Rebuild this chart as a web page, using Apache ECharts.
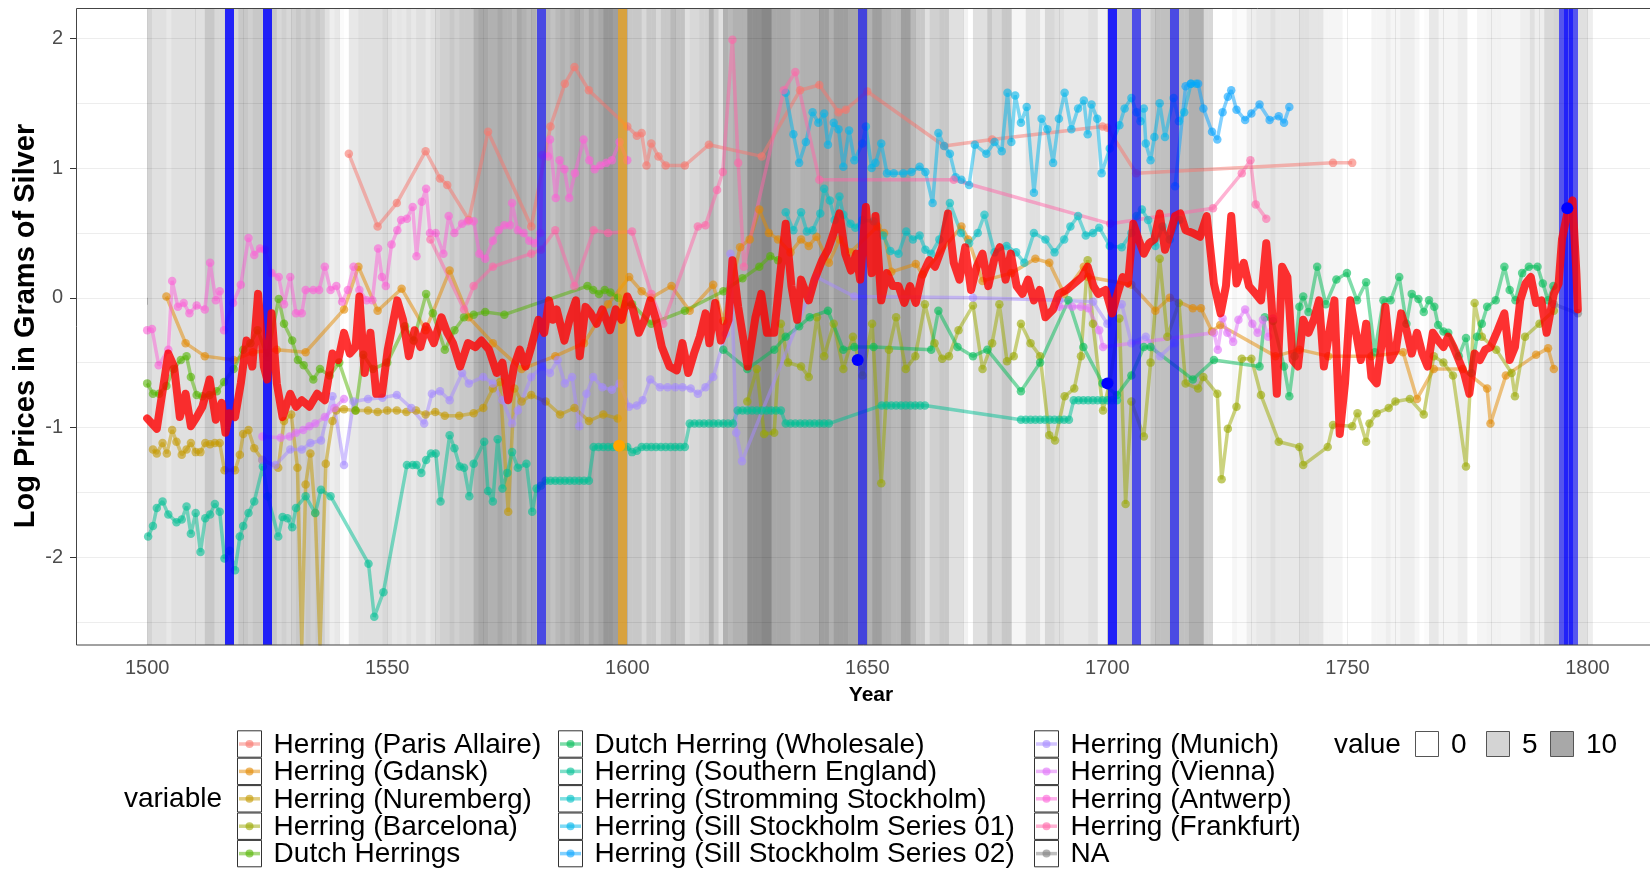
<!DOCTYPE html>
<html><head><meta charset="utf-8">
<script src="https://cdn.jsdelivr.net/npm/echarts@6/dist/echarts.min.js"></script>
<style>html,body{margin:0;padding:0;background:#fff}#c{width:1650px;height:869px}</style>
</head><body><div id="c"></div>
<script>
// ---------------- DATA ----------------
const categories = [
  "Herring (Paris Allaire)", "Herring (Gdansk)", "Herring (Nuremberg)", "Herring (Barcelona)", "Dutch Herrings",
  "Dutch Herring (Wholesale)", "Herring (Southern England)", "Herring (Stromming Stockholm)", "Herring (Sill Stockholm Series 01)", "Herring (Sill Stockholm Series 02)",
  "Herring (Munich)", "Herring (Vienna)", "Herring (Antwerp)", "Herring (Frankfurt)", "NA"
];
const palette = ["#F8766D","#E38900","#C49A00","#99A800","#53B400","#00BC56","#00C094","#00BFC4","#00B6EB","#06A4FF","#A58AFF","#DF70F8","#FB61D7","#FF66A8","#7F7F7F"];

const xTicks = [1500,1510,1520,1530,1540,1550,1560,1570,1580,1590,1600,1610,1620,1630,1640,1650,1660,1670,1680,1690,1700,1710,1720,1730,1740,1750,1760,1770,1780,1790,1800];
const xLabels = [1500,1550,1600,1650,1700,1750,1800];
const yTicks = [-2,-1,0,1,2];
const yGrid = [-2.5,-2,-1.5,-1,-0.5,0,0.5,1,1.5,2];
const valueLegend = [0,5,10];

// per-year shading "value" from 1500 to 1800
const shadeStart = 1500;
const shadeValues = [
  5,3.6,3.6,3.6,2.6,3.6,3.6,3.6,3.6,3.6,
  3.6,3.6,6.3,6.3,4.5,4.5,5,5,4.5,6.3,
  6.3,5.4,6.3,6.3,6,6,6.3,4.5,5.4,4.5,
  5.4,6.3,5.4,6.3,5.4,6.3,5.4,3.6,2,2.6,
  0.5,0,2.6,2.6,3.6,3.6,3.6,3.6,3.6,4.5,
  3.6,2.6,3,2.6,3.6,2.6,3.6,3.6,2.6,3.6,
  4.5,5.4,5.4,6.3,5.4,6.3,6.3,6.3,9,10,
  10,9,9,10,9,9,8,10,9,8,
  9,8,8,8,7,8,9,8,9,10,
  9,8,10,9,10,12,12,11,11,11,
  6.3,6.3,6.3,4.5,6.3,6.3,4.5,6.3,6.3,8,
  7,7,3.6,4.5,4.5,5.4,5.4,9,6,3.6,
  9,8,9,9,9,12.8,12.8,12.8,13.7,13.7,
  10,10,10,10,8,8,9,9,9,9,
  11,11,9,11,11,11,10,10,10,10,
  9,11,11,9,9,8,8,11,11,8,
  6.3,6.3,3.6,5.4,5.4,6.3,6.3,3.6,3.6,3.6,
  1.5,0,3.6,3.6,3.6,6.3,4.5,4.5,6.3,6.3,
  1,1,1,3.6,3.6,3.6,1.5,4.5,4.5,3.6,
  3.6,2.6,2.6,2.6,2.6,2.6,3.6,3.6,1.5,1.5,
  6,6,6.3,6.3,6.3,7,7,4.5,4.5,6.3,
  7.2,7.2,7.2,8,8,7.2,7.2,9.1,9.1,9.1,
  4.5,4.5,0,0,0,0,1,0.5,0.5,2,
  2,2.6,2.6,2.6,3.6,2.6,2.6,2.6,2.6,2.6,
  3.6,3.6,3,3,3,1.1,1.1,1.1,1.1,0,
  0,0,0,0,0,1.1,1.1,1.1,2,1.1,
  1.1,2,2,2,1,0,0.5,2.6,2.6,1.1,
  1.1,1.1,1.1,2,2,0,0,1.1,1.1,1.5,
  1.5,1.5,1.1,1.1,1.1,1.1,2,2,3.6,2,
  2,4.5,4.5,5,5,5,5,4.5,3.6,3.6,
  2
];

const blueEvents = [1517,1517,1525,1525,1582,1649,1701,1701,1706,1714,1795,1796,1797];
const orangeEvents = [1599];
const blueEventPoints = [[1648,-0.48],[1700,-0.66],[1795.8,0.69]];
const orangeEventPoints = [[1598.3,-1.14]];

const parisAllaire = [[1542,1.11],[1548,0.55],[1552,0.73],[1558,1.13],[1561,0.92],[1562.5,0.87],[1567,0.60],[1571,1.28],[1580,0.55],[1584,1.32],[1587,1.65],[1589,1.78],[1592,1.60],[1600,1.32],[1602,1.25],[1603,1.27],[1604,1.02],[1605,1.19],[1606.5,1.09],[1608,1.02],[1612,1.02],[1617,1.18],[1628,1.09],[1636,1.60],[1640,1.64],[1644,1.43],[1645.5,1.45],[1650,1.59],[1666,1.17],[1676,1.22],[1699,1.32],[1700,1.31],[1706,0.96],[1747,1.04],[1751,1.04]];

const gdansk = [[1504,0.01],[1508,-0.35],[1512,-0.45],[1518,-0.48],[1522,-0.42],[1527,-0.40],[1533,-0.42],[1541,-0.09],[1544,0.24],[1548,-0.1],[1553,0.07],[1558,-0.25],[1563,0.21],[1567,-0.15],[1572,-0.35],[1578,-0.55],[1585,-0.45],[1591,-0.35],[1596,-0.05],[1600.4,0.16],[1603,0.05],[1605,0.0],[1609.2,0.09],[1613,-0.1],[1617.9,0.10],[1620,-0.18],[1623.5,0.39],[1625.5,0.45],[1627.5,0.68],[1629.5,0.5],[1631.4,0.45],[1634,0.35],[1636.2,0.45],[1637.8,0.40],[1639.4,0.47],[1642,0.27],[1644.2,0.45],[1646.5,0.35],[1652.1,0.55],[1653.5,0.5],[1655,0.2],[1660.1,0.26],[1661.5,0.18],[1669.6,0.55],[1671,0.45],[1674,0.13],[1680,0.19],[1685,0.3],[1687.9,0.27],[1691,0.03],[1695.1,0.24],[1696,0.16],[1705,0.1],[1710,-0.1],[1713,0.0],[1717.8,-0.08],[1719.5,-0.08],[1721.8,-0.26],[1723.5,-0.21],[1735,-0.45],[1740,-0.40],[1746,-0.45],[1755,-0.45],[1761.6,-0.42],[1764.5,-0.78],[1768,-0.55],[1774,-0.55],[1779.1,-0.70],[1779.8,-0.97],[1783,-0.6],[1789.3,-0.44],[1791.8,-0.39],[1793,-0.55]];

const nuremberg = [[1501.2,-1.17],[1502,-1.20],[1503.2,-1.12],[1504.1,-1.20],[1505.2,-1.02],[1506.1,-1.11],[1507.2,-1.21],[1508.2,-1.17],[1509.1,-1.12],[1510.1,-1.19],[1511.1,-1.19],[1512.1,-1.12],[1513.1,-1.13],[1514.1,-1.12],[1515.1,-1.12],[1516.1,-1.33],[1518.3,-1.33],[1519.3,-1.21],[1520,-1.05],[1521.1,-1.02],[1522.3,-1.16],[1524,-1.25],[1527.3,-1.31],[1528.5,-0.95],[1530,-0.90],[1531.3,-1.31],[1532.2,-2.68],[1533,-1.44],[1534,-1.20],[1535,-1.66],[1536,-2.68],[1537.2,-1.28],[1538.6,-0.95],[1539.4,-0.87],[1541,-0.86],[1543.4,-0.87],[1546,-0.87],[1548,-0.88],[1550,-0.87],[1552,-0.87],[1554,-0.88],[1556,-0.87],[1558,-0.90],[1560,-0.88],[1562,-0.91],[1565,-0.91],[1568,-0.89],[1570,-0.85],[1572,-0.70],[1573.5,-0.65],[1575.2,-1.65],[1576.5,-0.70],[1578,-0.80],[1580,-0.75],[1583,-0.80],[1586,-0.90],[1589,-0.85],[1592,-0.95],[1595,-0.90],[1598,-0.93]];

const barcelona = [[1625,-0.80],[1627,-0.55],[1628.5,-1.05],[1630.6,-1.04],[1632,-0.20],[1633.5,-0.50],[1636.2,-0.53],[1637.8,-0.61],[1639.5,-0.15],[1641,-0.45],[1643,-0.20],[1645,-0.55],[1647,-0.30],[1649,-0.60],[1651,-0.20],[1652.9,-1.43],[1654.5,-0.40],[1656,-0.15],[1658,-0.55],[1660,-0.45],[1662,-0.05],[1664,-0.35],[1665.6,-0.47],[1667,-0.45],[1669,-0.25],[1672,-0.06],[1674,-0.55],[1676,-0.35],[1677.5,-0.05],[1679.1,-0.49],[1680.5,-0.45],[1682,-0.20],[1684,-0.35],[1686,-0.45],[1687.9,-1.06],[1689.1,-1.10],[1691.1,-0.76],[1693.1,-0.70],[1694.5,-0.45],[1695.9,0.29],[1697,-0.20],[1699.1,-0.87],[1700.5,-0.65],[1702.5,-0.16],[1703.8,-1.59],[1705,-0.80],[1707.6,-1.07],[1709,-0.50],[1710.9,0.30],[1712.5,-0.30],[1714.9,-0.04],[1716.3,-0.66],[1718.9,-0.70],[1720,-0.61],[1722.9,-0.74],[1723.8,-1.40],[1725.1,-1.01],[1726.9,-0.84],[1728,-0.47],[1730,-0.47],[1732,-0.75],[1735.7,-1.11],[1740,-1.15],[1740.8,-1.29],[1745.9,-1.15],[1747,-0.98],[1751,-0.99],[1752.1,-0.89],[1753.9,-1.11],[1754.6,-0.97],[1756.1,-0.89],[1758.6,-0.85],[1760,-0.80],[1763,-0.78],[1765.9,-0.90],[1768,-0.45],[1770,-0.50],[1772,-0.60],[1774.7,-1.30],[1776.5,-0.04],[1778,-0.30],[1781,-0.40],[1784.2,-0.58],[1784.9,-0.76],[1787,-0.30],[1790,-0.20],[1793,-0.10]];

const dutchHerrings = [[1500,-0.66],[1501.2,-0.74],[1502.5,-0.74],[1504,-0.68],[1505.5,-0.55],[1507,-0.48],[1508.2,-0.45],[1509.1,-0.61],[1510.3,-0.75],[1511.5,-0.76],[1513,-0.75],[1514.5,-0.72],[1516,-0.65],[1518,-0.55],[1520,-0.40],[1521.5,-0.35],[1523,-0.25],[1525,-0.45],[1527.4,-0.01],[1528.5,-0.20],[1530.2,-0.33],[1531.4,-0.48],[1532.6,-0.52],[1534.6,-0.63],[1536,-0.55],[1538,-0.60],[1540,-0.50],[1543.4,-0.87],[1545,-0.44],[1547,-0.55],[1550,-0.50],[1553.7,-0.22],[1555.5,-0.33],[1558.1,0.03],[1559.5,-0.12],[1562,-0.40],[1564,-0.25],[1566,-0.15],[1568,-0.13],[1570.4,-0.11],[1574.4,-0.13],[1591.7,0.09],[1592.9,0.06],[1594.1,0.03],[1595.3,0.06],[1596.5,0.04],[1598.1,0.00],[1599.2,-0.05],[1601,-0.05],[1605,-0.20],[1612,-0.10],[1620,0.05],[1624,0.15],[1627.5,0.24],[1629.8,0.32],[1631.4,0.29]];

const dutchWholesale = [[1620,-0.40],[1625,-0.55],[1630.6,-0.40],[1633,-0.30],[1635.8,-0.22],[1638,-0.15],[1641.8,-0.10],[1645,-0.40],[1647.3,-0.38],[1651.3,-0.38],[1663.3,-0.40],[1664.8,-0.10],[1668.8,-0.38],[1672,-0.45],[1675,-0.40],[1682,-0.72],[1686,-0.50],[1691.9,-0.02],[1695,-0.38],[1699,-0.66],[1702,-0.75],[1705,-0.60],[1707.6,-0.38],[1709,-0.38],[1717.8,-0.63],[1722.2,-0.48],[1731.7,-0.53],[1732.8,-0.15],[1734.5,-0.18],[1736.8,-0.53],[1737.9,-0.76],[1739,-0.45],[1740,-0.07],[1740.8,0.01],[1741.9,-0.11],[1743.7,0.24],[1745.5,-0.05],[1747.7,0.14],[1749.9,0.19],[1752,-0.02],[1753.9,0.12],[1755.7,-0.42],[1757.5,-0.02],[1759,-0.02],[1760.8,0.16],[1762.3,-0.20],[1763.4,0.03],[1764.8,-0.01],[1765.9,-0.11],[1767,-0.02],[1768.1,-0.07],[1768.9,-0.21],[1770,-0.26],[1771,-0.27],[1773.2,-0.45],[1774.7,-0.31],[1775.8,-0.58],[1777,-0.30],[1778,-0.20],[1779.1,-0.07],[1780.9,-0.02],[1782.7,0.24],[1783.8,0.06],[1785,-0.02],[1786.4,0.19],[1787.8,0.24],[1789.6,0.24],[1790.7,0.11],[1791.8,-0.02],[1792.9,0.09]];

const southernEngland = [[1500.2,-1.84],[1501.2,-1.76],[1502,-1.62],[1503.2,-1.57],[1504.4,-1.67],[1506.1,-1.73],[1507.2,-1.71],[1508.2,-1.61],[1509.1,-1.82],[1510.1,-1.66],[1511.1,-1.96],[1512.1,-1.70],[1513.1,-1.67],[1514.1,-1.59],[1515.1,-1.65],[1516.1,-2.01],[1517.2,-1.95],[1518.3,-2.10],[1519.3,-1.84],[1520,-1.76],[1521.1,-1.66],[1522.3,-1.57],[1524.1,-1.30],[1525.1,-1.53],[1527.3,-1.84],[1528.2,-1.69],[1529.2,-1.70],[1530.2,-1.77],[1531,-1.62],[1533,-1.53],[1535,-1.66],[1536.2,-1.48],[1538.2,-1.53],[1546.1,-2.05],[1547.3,-2.46],[1549.2,-2.27],[1554.1,-1.29],[1555.3,-1.29],[1556.1,-1.29],[1557.1,-1.35],[1558.1,-1.25],[1559.1,-1.20],[1560.1,-1.20],[1561.1,-1.57],[1563,-1.06],[1564,-1.16],[1565.1,-1.30],[1566,-1.31],[1567.1,-1.53],[1568,-1.28],[1570.2,-1.11],[1571,-1.49],[1572,-1.57],[1573,-1.09],[1574,-1.47],[1575,-1.35],[1576,-1.19],[1577.2,-1.31],[1579,-1.28],[1580.2,-1.65],[1581.1,-1.47],[1582,-1.45],[1583,-1.41],
 [1584,-1.41],[1585,-1.41],[1586,-1.41],[1587,-1.41],[1588,-1.41],[1589,-1.41],[1590,-1.41],[1591,-1.41],[1592,-1.41],
 [1593,-1.15],[1594,-1.15],[1595,-1.15],[1596,-1.15],[1597,-1.15],[1598,-1.15],[1599,-1.15],[1600,-1.15],[1601,-1.19],[1602,-1.18],[1603,-1.15],[1604,-1.15],[1605,-1.15],[1606,-1.15],[1607,-1.15],[1608,-1.15],[1609,-1.15],[1610,-1.15],[1611,-1.15],[1612,-1.15],
 [1613,-0.97],[1614,-0.97],[1615,-0.97],[1616,-0.97],[1617,-0.97],[1618,-0.97],[1619,-0.97],[1620,-0.97],[1621,-0.97],[1622,-0.97],
 [1623,-0.87],[1624,-0.87],[1625,-0.87],[1626,-0.87],[1627,-0.87],[1628,-0.87],[1629,-0.87],[1630,-0.87],[1631,-0.87],[1632,-0.87],
 [1633,-0.97],[1634,-0.97],[1635,-0.97],[1636,-0.97],[1637,-0.97],[1638,-0.97],[1639,-0.97],[1640,-0.97],[1641,-0.97],[1642,-0.97],
 [1653,-0.83],[1654,-0.83],[1655,-0.83],[1656,-0.83],[1657,-0.83],[1658,-0.83],[1659,-0.83],[1660,-0.83],[1661,-0.83],[1662,-0.83],
 [1682,-0.94],[1683,-0.94],[1684,-0.94],[1685,-0.94],[1686,-0.94],[1687,-0.94],[1688,-0.94],[1689,-0.94],[1690,-0.94],[1691,-0.94],[1692,-0.94],
 [1693,-0.79],[1694,-0.79],[1695,-0.79],[1696,-0.79],[1697,-0.79],[1698,-0.79],[1699,-0.79],[1700,-0.79],[1701,-0.79],[1702,-0.79]];

const stromming = [[1633,0.66],[1634.6,0.52],[1636.2,0.66],[1637.4,0.51],[1638.6,0.52],[1640.2,0.65],[1641,0.84],[1642.2,0.75],[1643.2,0.60],[1644.2,0.78],[1645,0.64],[1646.5,0.57],[1647.5,0.54],[1649,0.60],[1651.3,0.59],[1653.3,0.48],[1654.8,0.36],[1656.5,0.34],[1658.1,0.51],[1659.5,0.45],[1660.9,0.48],[1662.1,0.37],[1663.3,0.34],[1665,0.45],[1667.2,0.73],[1669.5,0.50],[1671.2,0.42],[1673,0.50],[1674.4,0.64],[1676.5,0.35],[1679,0.40],[1681,0.35],[1682.7,0.27],[1684.7,0.50],[1687.1,0.45],[1689,0.35],[1691,0.45],[1692.3,0.55],[1693.9,0.63],[1695.5,0.48],[1697,0.50],[1698.3,0.54],[1700.5,0.40],[1703,0.39],[1705,0.50],[1706.1,0.63],[1707.2,0.68],[1708.5,0.60],[1710,0.40],[1711.5,0.55],[1713,0.45],[1715,0.60]];

const sill01 = [[1633,1.58],[1634.6,1.26],[1635.8,1.04],[1637.2,1.20],[1638.6,1.43],[1639.8,1.35],[1641,1.42],[1641.8,1.18],[1643,1.35],[1644,1.30],[1645,1.01],[1646.2,1.29],[1647.3,1.06],[1649,1.19],[1649.7,1.32],[1650.9,1.00],[1651.7,1.04],[1652.9,1.19],[1654.1,0.96],[1655.5,0.96],[1657.5,0.96],[1659.2,0.97],[1660.9,1.01],[1662.1,0.97],[1663.6,0.73],[1664.8,1.27],[1666,1.17],[1667.2,1.11],[1668.4,0.93],[1669.6,0.91],[1671.2,0.87],[1672.4,1.18],[1674.8,1.11],[1676.5,1.20],[1678,1.13],[1679.2,1.58],[1680,1.20],[1680.8,1.56],[1682,1.35],[1683.2,1.47],[1684.7,0.81],[1686.3,1.38],[1687.5,1.30],[1688.7,1.04],[1689.9,1.38],[1691.1,1.58],[1692.5,1.30],[1693.9,1.46],[1695.1,1.52],[1695.9,1.26],[1696.7,1.49],[1697.9,1.38],[1698.8,0.96],[1700.5,1.15],[1702.5,1.33],[1703.6,1.46],[1705,1.54],[1706.1,1.43],[1706.9,1.36],[1707.6,1.46],[1708,1.19],[1709,1.06],[1709.8,1.24],[1710.9,1.50],[1712,1.24],[1713.8,1.54],[1714.9,1.36],[1716,1.43],[1717.4,1.65],[1718.5,1.65]];

const sill02 = [[1714.1,0.86],[1716.3,1.63],[1717.4,1.65],[1718.9,1.65],[1720,1.46],[1721.8,1.28],[1722.9,1.22],[1724,1.43],[1725.1,1.55],[1725.8,1.60],[1726.9,1.45],[1728.7,1.37],[1730,1.42],[1731.7,1.49],[1733.8,1.37],[1735.7,1.40],[1736.8,1.35],[1737.9,1.47]];

const munich = [[1524,-1.25],[1526.7,-1.29],[1529.8,-1.17],[1532.2,-1.17],[1534,-1.12],[1536.2,-1.10],[1538.6,-0.76],[1541,-1.29],[1543,-0.80],[1546,-0.78],[1549,-0.77],[1552,-0.75],[1555,-0.85],[1557.7,-0.97],[1559.3,-0.74],[1561,-0.72],[1563,-0.79],[1565.6,-0.58],[1567,-0.66],[1570,-0.61],[1572,-0.66],[1574,-0.79],[1576,-0.97],[1577.2,-0.87],[1580,-0.61],[1582.3,-0.53],[1583.9,-0.58],[1585.5,-0.48],[1587,-0.66],[1588.5,-0.61],[1590,-0.99],[1591.5,-0.74],[1592.9,-0.61],[1594.8,-0.69],[1596.8,-0.71],[1598.4,-0.66],[1600.4,-0.84],[1602,-0.83],[1603.2,-0.79],[1604.8,-0.63],[1606.8,-0.69],[1608.4,-0.69],[1610,-0.69],[1611.5,-0.69],[1613.2,-0.70],[1614.7,-0.74],[1616.3,-0.69],[1617.9,-0.61],[1620.5,-0.28],[1621.5,0.34],[1622.7,-1.04],[1623.9,-1.26],[1639.4,0.16],[1647.3,0.01],[1672,0.00],[1690,-0.02],[1697,-0.03],[1700,-0.20],[1703,-0.05],[1705,-0.35],[1708,-0.30],[1711,-0.45],[1714,-0.35]];

const vienna = [[1524,-1.07],[1527.8,-1.08],[1529.7,-1.07],[1531,-1.04],[1532.5,-1.02],[1533.8,-0.99],[1535,-0.97],[1537,-0.92],[1539,-0.85],[1541,-0.78],[1600,null],[1690,-0.07],[1692.7,-0.07],[1694.5,-0.07],[1696,-0.08],[1698.3,-0.25],[1699.1,-0.38],[1722.2,-0.27],[1723,-0.40],[1724,-0.16],[1725,-0.27],[1726.2,-0.34],[1727.3,-0.17],[1728.7,-0.09],[1730.2,-0.20],[1731.3,-0.27],[1732.4,-0.17],[1733.5,-0.30],[1734.5,-0.16]];

const antwerp = [[1500,-0.25],[1501,-0.24],[1502.4,-0.52],[1504.4,-0.40],[1505.2,0.13],[1506.4,-0.07],[1507.6,-0.04],[1508.8,-0.12],[1510.3,-0.06],[1512,-0.09],[1513.1,0.27],[1514.3,-0.02],[1515.1,0.05],[1516,-0.25],[1517.9,-0.04],[1519.5,0.10],[1521.1,0.46],[1522.3,0.33],[1523.5,0.38],[1524.5,0.37],[1525.9,0.19],[1527.4,0.16],[1528.5,-0.05],[1529.8,0.16],[1531,-0.12],[1532.2,-0.12],[1533,0.06],[1534.6,0.06],[1535.8,0.06],[1537,0.24],[1538.2,0.06],[1539.4,0.09],[1540.6,-0.03],[1541.8,0.06],[1543,0.24],[1544.2,0.06],[1545.7,-0.02],[1546.9,-0.02],[1548.1,0.38],[1548.9,0.16],[1549.7,0.09],[1550.9,0.41],[1552.1,0.52],[1552.9,0.60],[1554.1,0.61],[1555.3,0.70],[1556.1,0.32],[1557.2,0.74],[1558.1,0.84],[1558.9,0.50],[1560.1,0.50],[1561.7,0.34],[1562.8,0.63],[1564,0.50],[1565.6,0.57],[1566.8,0.59],[1568,0.59],[1569.2,0.34],[1570.4,0.30],[1572,0.44],[1573.2,0.52],[1574.4,0.56],[1575.6,0.56],[1576,0.73],[1577.2,0.52],[1578.4,0.50],[1579.6,0.44],[1580.7,0.42],[1581.9,0.50],[1582.3,1.10],[1583.5,1.09],[1583.9,1.22],[1585.1,0.77],[1585.9,1.06],[1586.9,0.99],[1587.9,0.77],[1589.1,0.96],[1590.9,1.22],[1592.1,1.06],[1593.2,0.99],[1594.4,1.02],[1595.6,1.04],[1596.8,1.06],[1598.4,1.20],[1600,1.06]];

const frankfurt = [[1559,0.45],[1566,-0.09],[1568,0.09],[1572,0.24],[1580,0.34],[1582,0.37],[1585,0.52],[1589,0.09],[1593,0.52],[1596,0.50],[1601,0.51],[1605,0.03],[1607.5,-0.20],[1614.7,0.55],[1616.3,0.56],[1618.7,0.83],[1619.9,0.97],[1621.9,1.99],[1623.1,1.04],[1624.3,0.24],[1632.6,1.60],[1635,1.74],[1640,0.91],[1668,0.91],[1700.6,0.57],[1722,0.69],[1728,0.96],[1729.8,1.06],[1730.9,0.72],[1733.1,0.61]];

const naSeries = [[1793,-0.05],[1798,-0.12]];

const aggregate = [[1500,-0.93],[1502,-1.01],[1504.4,-0.43],[1505.6,-0.53],[1506.8,-0.92],[1508,-0.74],[1509.1,-0.99],[1510.3,-0.92],[1511.5,-0.84],[1513,-0.63],[1514.3,-0.94],[1515.5,-0.81],[1516.3,-1.04],[1517.1,-0.89],[1518.3,-0.92],[1519.5,-0.66],[1520.7,-0.33],[1521.9,-0.53],[1523.1,0.03],[1524.3,-0.53],[1525,-0.63],[1525.9,-0.12],[1527,-0.66],[1528.2,-0.92],[1529.8,-0.74],[1531,-0.84],[1532.2,-0.79],[1533.8,-0.84],[1535.4,-0.74],[1537,-0.79],[1538.6,-0.43],[1539.8,-0.48],[1541,-0.27],[1542.2,-0.43],[1543.4,-0.38],[1544.2,0.01],[1545.3,-0.58],[1546.5,-0.27],[1547.7,-0.74],[1548.9,-0.74],[1550.1,-0.40],[1552.1,-0.02],[1553.3,-0.17],[1554.5,-0.45],[1555.7,-0.25],[1556.9,-0.38],[1558.1,-0.22],[1559.7,-0.35],[1561.3,-0.15],[1562.5,-0.27],[1563.7,-0.35],[1565.2,-0.53],[1566.8,-0.35],[1568.4,-0.38],[1569.6,-0.33],[1571.2,-0.40],[1572.8,-0.58],[1574,-0.50],[1575.2,-0.79],[1576.4,-0.53],[1577.6,-0.40],[1578.8,-0.53],[1580,-0.38],[1581.5,-0.17],[1582.7,-0.27],[1583.7,-0.02],
 [1584.5,-0.17],[1585.3,-0.09],[1586.9,-0.33],[1588.1,-0.15],[1589.3,-0.02],[1590.1,-0.45],[1591.3,-0.07],[1592.4,-0.12],[1593.6,-0.20],[1594.8,-0.09],[1596.4,-0.25],[1597.6,-0.09],[1598.8,-0.17],[1600,0.01],[1601.2,-0.09],[1602.4,-0.27],[1603.6,-0.17],[1604.8,-0.02],[1606,-0.17],[1607.2,-0.38],[1608.8,-0.53],[1610.3,-0.56],[1611.5,-0.35],[1612.7,-0.58],[1613.9,-0.43],[1615.1,-0.30],[1616.3,-0.12],[1617.1,-0.35],[1618.3,-0.04],[1619.5,-0.33],[1621.1,-0.17],[1621.9,0.29],[1623.1,-0.07],[1625.1,-0.53],[1626.7,-0.15],[1627.9,0.03],[1629.1,-0.27],[1630.6,-0.27],[1631.8,0.16],[1633,0.57],[1634.2,0.09],[1635.4,-0.17],[1636.2,0.14],[1637.8,-0.02],[1639,0.14],[1640.6,0.29],[1641.8,0.37],[1643,0.50],[1644.2,0.65],[1645.4,0.34],[1646.6,0.21],[1647.7,0.34],[1648.5,0.14],[1649.7,0.70],[1650.9,0.19],[1651.7,0.63],[1652.9,-0.02],[1654.1,0.19],[1655.3,0.09],[1656.5,0.09],[1657.7,-0.04],[1658.9,0.09],[1660.1,-0.04],[1661.3,0.16],[1662.9,0.29],[1664.1,0.24],[1665.6,0.39],[1666.8,0.65],[1668,0.27],[1669.2,0.14],[1670.4,0.39],[1671.6,0.06],[1672.8,0.24],[1674,0.34],[1675.2,0.09],[1676.4,0.29],[1677.6,0.39],[1678.8,0.14],[1679.9,0.34],[1681.1,0.09],[1682.3,0.03],[1683.5,0.14],[1684.7,-0.02],[1685.9,0.06],[1687.1,-0.15],[1688.7,-0.09],[1689.9,0.03],[1691.5,0.06],[1693.1,0.11],[1694.7,0.16],[1695.9,0.24],[1697.1,0.09],
 [1698.1,0.03],[1699.6,0.06],[1701,-0.12],[1702.1,0.03],[1703.2,0.16],[1704.3,0.11],[1705.4,0.57],[1706.5,0.45],[1707.6,0.34],[1708.7,0.42],[1709.8,0.45],[1710.9,0.65],[1712,0.37],[1713.1,0.50],[1714.1,0.63],[1715.2,0.65],[1716.3,0.52],[1717.8,0.50],[1719.3,0.47],[1720.7,0.63],[1722.2,0.11],[1723.6,-0.12],[1724.7,0.09],[1725.8,0.63],[1726.9,0.11],[1728.4,0.27],[1729.5,0.09],[1730.9,0.03],[1732,-0.02],[1733.1,0.42],[1734.2,-0.04],[1735.3,-0.74],[1736.4,0.24],[1737.5,0.16],[1738.6,-0.48],[1739.7,-0.53],[1740.8,-0.17],[1741.9,-0.27],[1743,-0.17],[1744.1,-0.02],[1745.1,-0.53],[1746.2,-0.27],[1747.3,-0.02],[1748.4,-1.05],[1749.5,-0.66],[1750.6,-0.02],[1751.7,-0.25],[1752.8,-0.48],[1753.9,-0.20],[1755,-0.61],[1756.1,-0.66],[1757.2,-0.33],[1757.9,-0.07],[1759,-0.48],[1760.1,-0.40],[1761.2,-0.12],[1762.3,-0.25],[1763.4,-0.43],[1764.5,-0.27],[1765.6,-0.43],[1766.7,-0.53],[1767.8,-0.27],[1768.9,-0.33],[1770,-0.38],[1771,-0.30],[1772.1,-0.38],[1773.2,-0.48],[1774.3,-0.58],[1775.4,-0.74],[1776.5,-0.43],[1777.6,-0.48],[1778.7,-0.40],[1779.8,-0.38],[1781.3,-0.25],[1782.7,-0.12],[1783.8,-0.48],[1784.9,-0.38],[1786,-0.02],[1787.1,0.11],[1788.2,0.16],[1789.3,-0.04],[1790.4,-0.02],[1791.5,-0.27],[1793,0.03],[1794,0.11],[1794.7,0.45],[1795.8,0.65],[1796.9,0.75],[1797.7,0.19],[1798,-0.09]];

const seriesValues = [parisAllaire, gdansk, nuremberg, barcelona, dutchHerrings, dutchWholesale, southernEngland, stromming, sill01, sill02, munich, vienna, antwerp, frankfurt, naSeries];

// ---------------- CHART ----------------
const FONT = "'Liberation Sans', Arial, Helvetica, sans-serif";
const X_MIN = 1485.38, X_MAX = 1813.03, Y_MIN = -2.677, Y_MAX = 2.234;
const shadeColor = v => { const g = Math.round(255 - 8.7 * v); return `rgb(${g},${g},${g})`; };

const chart = echarts.init(document.getElementById('c'), null, {renderer: 'canvas'});

const series = [];
series.push({
  type: 'custom', z: 1, silent: true, animation: false,
  data: shadeValues.map((v, i) => [shadeStart + i, v]),
  renderItem: (params, api) => {
    const yr = api.value(0), v = api.value(1);
    const p0 = api.coord([yr, Y_MAX]);
    const p1 = api.coord([yr + 1, Y_MIN]);
    return {type: 'rect', shape: {x: p0[0], y: p0[1], width: p1[0] - p0[0] + 0.6, height: p1[1] - p0[1]},
            style: {fill: shadeColor(v)}};
  }
});
series.push({
  type: 'line', data: [], z: 2, silent: true, animation: false,
  markLine: {silent: true, animation: false, symbol: ['none', 'none'], label: {show: false},
    lineStyle: {color: 'rgba(0,0,0,0.07)', width: 1, type: 'solid'},
    data: [...yGrid.map(v => ({yAxis: v})), ...xTicks.map(v => ({xAxis: v}))]}
});
series.push({
  type: 'line', data: [], z: 3, silent: true, animation: false,
  markLine: {silent: true, animation: false, symbol: ['none', 'none'], label: {show: false},
    lineStyle: {width: 9, type: 'solid', cap: 'butt'},
    data: [
      ...blueEvents.map(v => ({xAxis: v, lineStyle: {color: 'rgba(0,0,255,0.6)', width: 9, type: 'solid'}})),
      ...orangeEvents.map(v => ({xAxis: v, lineStyle: {color: 'rgba(255,165,0,0.6)', width: 9, type: 'solid'}}))
    ]}
});
categories.forEach((name, i) => {
  series.push({
    name, type: 'line', data: seriesValues[i], z: 4, silent: true, animation: false,
    symbol: 'circle', symbolSize: 8.5, showSymbol: true, connectNulls: false,
    lineStyle: {width: 3.5, color: palette[i], opacity: 0.5},
    itemStyle: {color: palette[i], opacity: 0.6}
  });
});
series.push({
  name: 'aggregate', type: 'line', data: aggregate, z: 5, silent: true, animation: false,
  symbol: 'none', lineStyle: {width: 8, color: '#ff0000', opacity: 0.8, join: 'round', cap: 'round'}
});
series.push({type: 'scatter', data: blueEventPoints, z: 6, silent: true, animation: false, symbolSize: 12, itemStyle: {color: '#0000ff', opacity: 1}});
series.push({type: 'scatter', data: orangeEventPoints, z: 6, silent: true, animation: false, symbolSize: 12, itemStyle: {color: '#ffa500', opacity: 1}});

// legend (ggplot style) drawn with graphic elements
const graphics = [];
const colX = [237, 558, 1034];
const rowY = [744, 771.4, 798.8, 826.2, 853.6];
categories.forEach((name, i) => {
  const cx = colX[Math.floor(i / 5)], ry = rowY[i % 5];
  graphics.push({type: 'rect', shape: {x: cx + 0.5, y: ry - 13.2, width: 24, height: 26.4}, style: {fill: '#fff', stroke: '#333', lineWidth: 1}, z: 50});
  graphics.push({type: 'line', shape: {x1: cx + 2, y1: ry, x2: cx + 23, y2: ry}, style: {stroke: palette[i], lineWidth: 3.5, opacity: 0.5}, z: 51});
  graphics.push({type: 'circle', shape: {cx: cx + 12.5, cy: ry, r: 4}, style: {fill: palette[i], opacity: 0.6}, z: 52});
  graphics.push({type: 'text', x: cx + 36.6, y: ry + 1, style: {text: name, fontSize: 28, fontFamily: FONT, fill: '#000', verticalAlign: 'middle', align: 'left'}, z: 52});
});
graphics.push({type: 'text', x: 222, y: 799, style: {text: 'variable', fontSize: 28, fontFamily: FONT, fill: '#000', verticalAlign: 'middle', align: 'right'}, z: 52});
graphics.push({type: 'text', x: 1334, y: 745, style: {text: 'value', fontSize: 28, fontFamily: FONT, fill: '#000', verticalAlign: 'middle', align: 'left'}, z: 52});
const vbX = [1415, 1486, 1550];
valueLegend.forEach((v, i) => {
  graphics.push({type: 'rect', shape: {x: vbX[i] + 0.5, y: 731.5, width: 23, height: 25}, style: {fill: shadeColor(v), stroke: '#555', lineWidth: 1}, z: 50});
  graphics.push({type: 'text', x: vbX[i] + 36, y: 745, style: {text: String(v), fontSize: 28, fontFamily: FONT, fill: '#000', verticalAlign: 'middle', align: 'left'}, z: 52});
});
// axis titles
graphics.push({type: 'text', x: 871, y: 695, style: {text: 'Year', fontSize: 21, fontWeight: 'bold', fontFamily: FONT, fill: '#000', align: 'center', verticalAlign: 'middle'}, z: 52});
graphics.push({type: 'text', x: 26, y: 326, rotation: Math.PI / 2, style: {text: 'Log Prices in Grams of Silver', fontSize: 29, fontWeight: 'bold', fontFamily: FONT, fill: '#000', align: 'center', verticalAlign: 'middle'}, z: 52});
// panel border
graphics.push({type: 'rect', shape: {x: 76.5, y: 8.5, width: 1600, height: 636.5}, style: {fill: null, stroke: '#444', lineWidth: 1}, z: 60, silent: true});

chart.setOption({
  animation: false,
  backgroundColor: '#ffffff',
  grid: {left: 77, top: 8, right: -3, bottom: 224, containLabel: false, show: true, backgroundColor: '#ffffff', borderWidth: 0},
  xAxis: {
    type: 'value', min: X_MIN, max: X_MAX,
    axisLine: {show: false},
    axisTick: {show: true, customValues: xTicks, length: 7, lineStyle: {color: '#333', width: 1}},
    axisLabel: {show: true, customValues: xLabels, margin: 13, fontSize: 20, color: '#4D4D4D', fontFamily: FONT, formatter: v => String(v)},
    splitLine: {show: false}
  },
  yAxis: {
    type: 'value', min: Y_MIN, max: Y_MAX,
    axisLine: {show: false},
    axisTick: {show: true, customValues: yTicks, length: 7, lineStyle: {color: '#333', width: 1}},
    axisLabel: {show: true, customValues: yTicks, margin: 14, fontSize: 20, color: '#4D4D4D', fontFamily: FONT, formatter: v => String(v)},
    splitLine: {show: false}
  },
  series,
  graphic: graphics
});
</script>
</body></html>
